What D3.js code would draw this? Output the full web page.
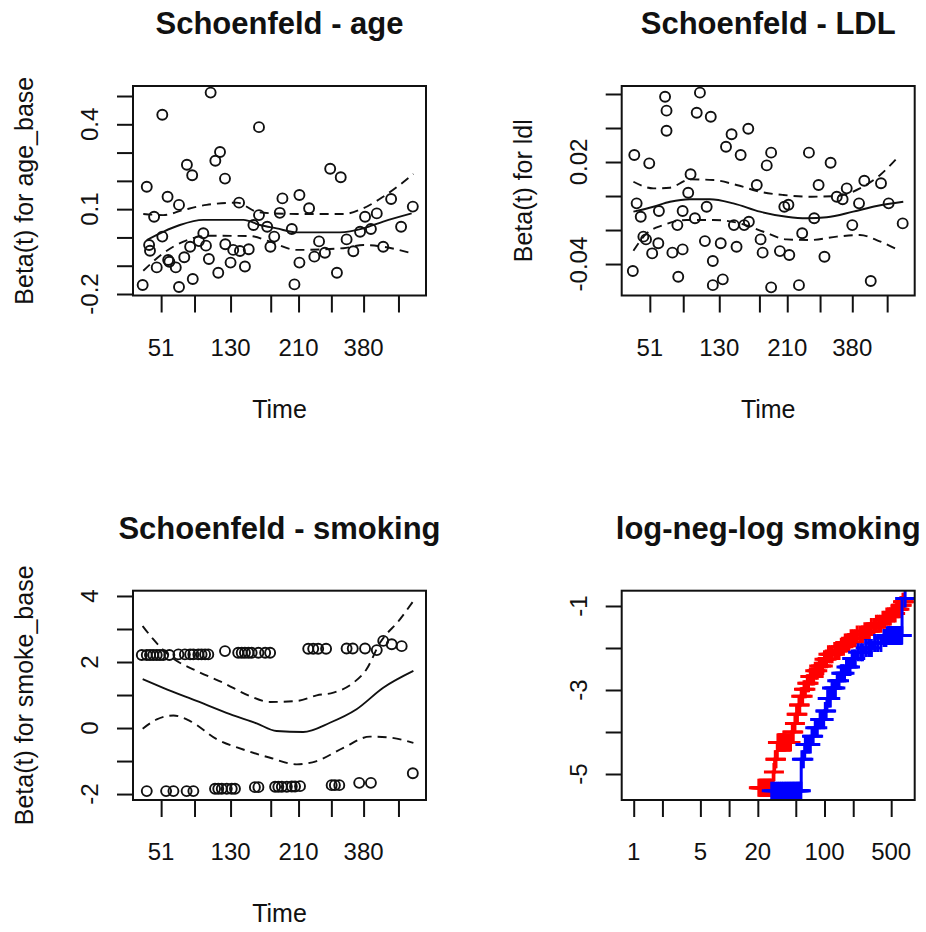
<!DOCTYPE html>
<html>
<head>
<meta charset="utf-8">
<script src="https://cdnjs.cloudflare.com/ajax/libs/d3/7.8.5/d3.min.js"></script>
<style>
	body { margin: 0; background: #fff; }
	svg text { font-family: "Liberation Sans", Arial, sans-serif; fill: #111; }
	.title { font-weight: bold; font-size: 31px; }
	.tick-lab { font-size: 24px; }
	.ax-lab { font-size: 25px; }
</style>
</head>
<body>
<svg id="chart" width="926" height="932"></svg>
<script>

	// ---- shared time axis of the three Schoenfeld panels (km-transformed time, 0..1 across the frame)
	var timeTicks = [0.096, 0.210, 0.333, 0.470, 0.565, 0.677, 0.787, 0.906];
	var timeLabels = ["51", "", "130", "", "210", "", "380", ""];

	// ---- age
	var ageRange = [-0.2053, 0.5354];
	var ageTicks = [-0.2, -0.1, 0, 0.1, 0.2, 0.3, 0.4, 0.5];
	var ageLabels = ["-0.2", "", "", "0.1", "", "", "0.4", ""];
	var agePoints = [
		[0.265, 0.512], [0.100, 0.434], [0.430, 0.390], [0.297, 0.302], [0.281, 0.271],
		[0.184, 0.257], [0.202, 0.220], [0.314, 0.208], [0.673, 0.243], [0.709, 0.213],
		[0.047, 0.179], [0.118, 0.144], [0.157, 0.115], [0.362, 0.123], [0.510, 0.138],
		[0.568, 0.150], [0.601, 0.103], [0.072, 0.073], [0.430, 0.079], [0.501, 0.087],
		[0.792, 0.073], [0.832, 0.085], [0.881, 0.136], [0.955, 0.109], [0.915, 0.038],
		[0.812, 0.030], [0.775, 0.020], [0.100, 0.003], [0.240, 0.015], [0.411, 0.044],
		[0.458, 0.038], [0.542, 0.030], [0.482, 0.003], [0.729, -0.007], [0.055, -0.027],
		[0.058, -0.047], [0.195, -0.033], [0.225, -0.013], [0.249, -0.029], [0.315, -0.024],
		[0.342, -0.044], [0.365, -0.048], [0.395, -0.042], [0.469, -0.033], [0.635, -0.014],
		[0.619, -0.068], [0.655, -0.054], [0.752, -0.049], [0.854, -0.033], [0.120, -0.080],
		[0.124, -0.086], [0.146, -0.106], [0.175, -0.070], [0.081, -0.106], [0.259, -0.076],
		[0.333, -0.089], [0.382, -0.103], [0.568, -0.089], [0.291, -0.125], [0.696, -0.125],
		[0.033, -0.168], [0.157, -0.175], [0.204, -0.147], [0.551, -0.166]
	];
	var ageFit = [[0.047, -0.009], [0.103, 0.020], [0.160, 0.044], [0.240, 0.062], [0.377, 0.062],
		[0.433, 0.044], [0.490, 0.032], [0.559, 0.018], [0.706, 0.018], [0.786, 0.032], [0.854, 0.056], [0.951, 0.085]];
	var ageUpper = [[0.035, 0.083], [0.103, 0.079], [0.172, 0.097], [0.251, 0.115], [0.354, 0.123],
		[0.422, 0.091], [0.479, 0.085], [0.559, 0.083], [0.718, 0.083], [0.786, 0.103], [0.854, 0.144], [0.957, 0.224]];
	var ageLower = [[0.035, -0.118], [0.103, -0.056], [0.172, -0.015], [0.251, 0.006], [0.399, 0.005],
		[0.468, -0.015], [0.559, -0.044], [0.718, -0.038], [0.786, -0.027], [0.854, -0.033], [0.940, -0.053]];

	// ---- LDL
	var ldlRange = [-0.0585, 0.0647];
	var ldlTicks = [-0.04, -0.02, 0, 0.02, 0.04, 0.06];
	var ldlLabels = ["-0.04", "", "", "0.02", "", ""];
	var ldlPoints = [
		[0.267, 0.0608], [0.148, 0.0584], [0.153, 0.0502], [0.256, 0.0490], [0.304, 0.0466],
		[0.153, 0.0384], [0.432, 0.0396], [0.375, 0.0363], [0.356, 0.0290], [0.406, 0.0241],
		[0.510, 0.0255], [0.495, 0.0180], [0.639, 0.0255], [0.713, 0.0196], [0.043, 0.0241],
		[0.094, 0.0192], [0.235, 0.0128], [0.461, 0.0065], [0.672, 0.0065], [0.828, 0.0090],
		[0.885, 0.0075], [0.227, 0.0019], [0.768, 0.0045], [0.734, -0.0004], [0.754, -0.0019],
		[0.051, -0.0043], [0.290, -0.0063], [0.555, -0.0063], [0.569, -0.0051], [0.810, -0.0043],
		[0.911, -0.0043], [0.065, -0.0122], [0.127, -0.0088], [0.208, -0.0088], [0.250, -0.0131],
		[0.657, -0.0131], [0.190, -0.0171], [0.383, -0.0171], [0.418, -0.0171], [0.434, -0.0151],
		[0.787, -0.0171], [0.959, -0.0161], [0.074, -0.0239], [0.083, -0.0255], [0.125, -0.0278],
		[0.104, -0.0337], [0.173, -0.0333], [0.208, -0.0314], [0.284, -0.0265], [0.338, -0.0278],
		[0.392, -0.0298], [0.474, -0.0255], [0.481, -0.0333], [0.540, -0.0324], [0.572, -0.0347],
		[0.616, -0.0219], [0.692, -0.0357], [0.311, -0.0382], [0.038, -0.0441], [0.193, -0.0475],
		[0.311, -0.0524], [0.345, -0.0490], [0.510, -0.0537], [0.605, -0.0524], [0.850, -0.0500]
	];
	var ldlFit = [[0.040, -0.0092], [0.108, -0.0063], [0.165, -0.0034], [0.233, -0.0019], [0.301, -0.0019],
		[0.381, -0.0043], [0.472, -0.0092], [0.563, -0.0122], [0.631, -0.0131], [0.700, -0.0125],
		[0.790, -0.0092], [0.870, -0.0059], [0.961, -0.0034]];
	var ldlUpper = [[0.040, 0.0084], [0.108, 0.0045], [0.165, 0.0049], [0.233, 0.0098], [0.313, 0.0094],
		[0.392, 0.0065], [0.472, 0.0025], [0.552, 0.0006], [0.643, -0.0004], [0.734, 0.0000],
		[0.813, 0.0045], [0.882, 0.0124], [0.939, 0.0222]];
	var ldlLower = [[0.040, -0.0322], [0.085, -0.0220], [0.142, -0.0171], [0.222, -0.0141], [0.313, -0.0141],
		[0.404, -0.0161], [0.484, -0.0210], [0.563, -0.0255], [0.643, -0.0259], [0.734, -0.0239],
		[0.813, -0.0229], [0.870, -0.0259], [0.933, -0.0308]];

	// ---- smoking
	var smokeRange = [-2.18, 4.16];
	var smokeTicks = [-2, -1, 0, 1, 2, 3, 4];
	var smokeLabels = ["-2", "", "0", "", "2", "", "4"];
	var smokePoints = [
		[0.030, 2.21], [0.047, 2.21], [0.058, 2.21], [0.069, 2.21], [0.081, 2.21], [0.092, 2.21],
		[0.103, 2.21], [0.124, 2.21], [0.155, 2.23], [0.177, 2.23], [0.195, 2.23], [0.206, 2.23],
		[0.223, 2.23], [0.234, 2.23], [0.246, 2.23], [0.257, 2.23], [0.314, 2.33], [0.359, 2.28],
		[0.371, 2.28], [0.382, 2.28], [0.394, 2.28], [0.405, 2.28], [0.428, 2.28], [0.451, 2.28],
		[0.468, 2.28], [0.598, 2.40], [0.615, 2.40], [0.632, 2.40], [0.659, 2.40], [0.729, 2.41],
		[0.750, 2.41], [0.792, 2.41], [0.832, 2.36], [0.854, 2.64], [0.883, 2.54], [0.917, 2.48],
		[0.047, -1.91], [0.113, -1.91], [0.138, -1.91], [0.183, -1.91], [0.206, -1.91],
		[0.280, -1.84], [0.291, -1.84], [0.303, -1.84], [0.320, -1.84], [0.337, -1.84], [0.348, -1.84],
		[0.416, -1.79], [0.428, -1.79], [0.485, -1.78], [0.496, -1.78], [0.508, -1.78], [0.525, -1.78],
		[0.542, -1.77], [0.553, -1.77], [0.570, -1.76], [0.678, -1.73], [0.689, -1.73], [0.704, -1.73],
		[0.772, -1.66], [0.812, -1.66], [0.955, -1.37]
	];
	var smokeFit = [[0.033, 1.48], [0.103, 1.22], [0.217, 0.82], [0.331, 0.42], [0.422, 0.14], [0.490, -0.09],
		[0.581, -0.12], [0.672, 0.16], [0.763, 0.57], [0.854, 1.22], [0.957, 1.73]];
	var smokeUpper = [[0.033, 3.09], [0.069, 2.69], [0.126, 2.18], [0.217, 1.73], [0.308, 1.37], [0.399, 0.97],
		[0.468, 0.79], [0.559, 0.82], [0.627, 0.99], [0.684, 1.07], [0.752, 1.37], [0.797, 1.78],
		[0.843, 2.58], [0.911, 3.29], [0.957, 3.85]];
	var smokeLower = [[0.033, -0.02], [0.081, 0.26], [0.138, 0.38], [0.195, 0.21], [0.286, -0.34], [0.376, -0.65],
		[0.468, -0.90], [0.559, -1.10], [0.627, -1.00], [0.718, -0.60], [0.809, -0.26], [0.877, -0.29], [0.957, -0.45]];

	// ---- log-neg-log survival by smoking
	var llTimeRange = [0.7484, 882];
	var llTimeTicks = [1, 2, 5, 10, 20, 50, 100, 200, 500];
	var llTimeLabels = ["1", "", "5", "", "20", "", "100", "", "500"];
	var llRange = [-5.619, -0.636];
	var llTicks = [-5, -4, -3, -2, -1];
	var llLabels = ["-5", "", "-3", "", "-1"];

	var redSteps = [[20, -5.33], [29, -4.95], [30, -4.65], [32, -4.25], [45, -4.00], [48, -3.80], [50, -3.58],
		[53, -3.36], [56, -3.15], [60, -2.98], [64, -2.84], [70, -2.68], [78, -2.54], [86, -2.43], [97, -2.27],
		[110, -2.15], [125, -2.07], [145, -1.97], [165, -1.87], [190, -1.77], [220, -1.68], [260, -1.60],
		[300, -1.50], [350, -1.42], [400, -1.33], [450, -1.25], [500, -1.18], [570, -1.08], [620, -0.98], [650, -0.90]];
	var redEnd = 690;
	var redCensor = [20.5, 21, 21.5, 22, 22.5, 23, 23.5, 24, 24.5, 25, 25.5, 26, 26.5, 27, 27.5, 28,
		29.5, 30.5, 31,
		32.5, 33, 33.5, 34, 34.5, 35, 35.5, 36, 36.5, 37, 37.5, 38, 38.5, 39, 40, 41, 42, 43, 44,
		46, 47, 49, 51, 52, 54, 55, 57, 59, 61, 63, 66, 68, 71, 74, 77, 80, 84, 88, 92, 96, 100,
		105, 110, 115, 120, 128, 135, 142, 150, 158, 165, 172, 180, 190, 200, 210, 220, 235, 250,
		265, 280, 295, 310, 330, 350, 370, 390, 410, 430, 450, 470, 490, 510, 530, 550, 570, 590,
		610, 630, 645, 665, 680];

	var blueSteps = [[27, -5.40], [57, -4.65], [62, -4.30], [72, -4.10], [78, -3.90], [88, -3.70], [100, -3.50],
		[106, -3.20], [118, -2.95], [132, -2.78], [148, -2.60], [168, -2.45], [190, -2.25], [215, -2.10],
		[260, -2.00], [320, -1.88], [400, -1.76], [450, -1.70], [650, -0.82]];
	var blueEnd = 720;
	var blueCensor = [28, 29.5, 31, 32.5, 34, 35.5, 37, 38.5, 40, 41.5, 43, 44.5, 46, 47.5, 49, 50.5, 52,
		53.5, 55, 56.5,
		58, 60, 63, 65, 67, 69, 71, 74, 76, 80, 84, 90, 95, 98, 102, 104, 108, 112, 115, 120, 125, 130,
		136, 142, 150, 155, 162, 170, 178, 185, 195, 205, 210, 225, 240, 250, 270, 290, 310, 335, 360,
		390, 420, 440,
		455, 460, 465, 470, 475, 480, 485, 490, 495, 500, 505, 510, 515, 520, 525, 530, 535, 540, 545,
		550, 555, 560, 565, 570, 575, 580, 585, 590, 595, 600, 605, 610, 615, 620, 625, 630, 635, 640, 645,
		700];

	var svg = d3.select("#chart");

	var frames = {
		age:   {left: 133,   right: 426,   top: 86,    bottom: 295.5},
		ldl:   {left: 621.7, right: 914.7, top: 86,    bottom: 295.5},
		smoke: {left: 133,   right: 426,   top: 590.7, bottom: 800},
		ll:    {left: 621.7, right: 914.7, top: 590.7, bottom: 800}
	};

	function panel(id, f, x, y, o) {
		var g = svg.append("g");

		svg.append("clipPath").attr("id", "clip-" + id)
			.append("rect")
			.attr("x", f.left).attr("y", f.top)
			.attr("width", f.right - f.left).attr("height", f.bottom - f.top);

		// ticks
		g.append("g")
			.attr("transform", "translate(0," + f.bottom + ")")
			.call(d3.axisBottom(x).tickValues(o.xTicks).tickSize(17).tickFormat(""))
			.call(a => a.select(".domain").remove())
			.selectAll("line").attr("stroke", "#111").attr("stroke-width", 2);

		g.append("g")
			.attr("transform", "translate(" + f.left + ",0)")
			.call(d3.axisLeft(y).tickValues(o.yTicks).tickSize(16).tickFormat(""))
			.call(a => a.select(".domain").remove())
			.selectAll("line").attr("stroke", "#111").attr("stroke-width", 2);

		// tick labels
		g.selectAll(".xl").data(o.xTicks).enter().append("text")
			.attr("class", "tick-lab")
			.attr("x", d => x(d))
			.attr("y", f.bottom + 60)
			.attr("text-anchor", "middle")
			.text((d, i) => o.xLabels[i]);

		g.selectAll(".yl").data(o.yTicks).enter().append("text")
			.attr("class", "tick-lab")
			.attr("transform", d => "translate(" + (f.left - 35) + "," + y(d) + ") rotate(-90)")
			.attr("text-anchor", "middle")
			.text((d, i) => o.yLabels[i]);

		// titles
		g.append("text").attr("class", "title")
			.attr("x", (f.left + f.right) / 2).attr("y", f.top - 52)
			.attr("text-anchor", "middle")
			.text(o.title);

		if (o.xlab) g.append("text").attr("class", "ax-lab")
			.attr("x", (f.left + f.right) / 2).attr("y", f.bottom + 122)
			.attr("text-anchor", "middle")
			.text(o.xlab);

		if (o.ylab) g.append("text").attr("class", "ax-lab")
			.attr("transform", "translate(" + (f.left - o.ylabGap) + "," + (f.top + f.bottom) / 2 + ") rotate(-90)")
			.attr("text-anchor", "middle")
			.text(o.ylab);

		var plot = g.append("g").attr("clip-path", "url(#clip-" + id + ")");

		g.append("rect")
			.attr("x", f.left).attr("y", f.top)
			.attr("width", f.right - f.left).attr("height", f.bottom - f.top)
			.attr("fill", "none").attr("stroke", "#111").attr("stroke-width", 2);

		return plot;
	}

	function schoenfeld(id, f, range, ticks, labels, points, fit, upper, lower, title, ylab, gap) {
		var x = d3.scaleLinear().domain([0, 1]).range([f.left, f.right]);
		var y = d3.scaleLinear().domain(range).range([f.bottom, f.top]);

		var plot = panel(id, f, x, y, {
			xTicks: timeTicks, xLabels: timeLabels, yTicks: ticks, yLabels: labels,
			title: title, xlab: "Time", ylab: ylab, ylabGap: gap
		});

		plot.selectAll("circle").data(points).enter().append("circle")
			.attr("cx", d => x(d[0]))
			.attr("cy", d => y(d[1]))
			.attr("r", 5)
			.attr("fill", "none").attr("stroke", "#111").attr("stroke-width", 1.9);

		var line = d3.line().x(d => x(d[0])).y(d => y(d[1])).curve(d3.curveMonotoneX);

		plot.append("path").attr("d", line(fit))
			.attr("fill", "none").attr("stroke", "#111").attr("stroke-width", 1.9);

		[upper, lower].forEach(function(band) {
			plot.append("path").attr("d", line(band))
				.attr("fill", "none").attr("stroke", "#111").attr("stroke-width", 1.9)
				.attr("stroke-dasharray", "9,6");
		});
	}

	schoenfeld("age", frames.age, ageRange, ageTicks, ageLabels, agePoints, ageFit, ageUpper, ageLower,
		"Schoenfeld - age", "Beta(t) for age_base", 100);
	schoenfeld("ldl", frames.ldl, ldlRange, ldlTicks, ldlLabels, ldlPoints, ldlFit, ldlUpper, ldlLower,
		"Schoenfeld - LDL", "Beta(t) for ldl", 90);
	schoenfeld("smoke", frames.smoke, smokeRange, smokeTicks, smokeLabels, smokePoints, smokeFit, smokeUpper, smokeLower,
		"Schoenfeld - smoking", "Beta(t) for smoke_base", 100);

	// ---- log-neg-log panel
	(function() {
		var f = frames.ll;
		var x = d3.scaleLog().domain(llTimeRange).range([f.left, f.right]);
		var y = d3.scaleLinear().domain(llRange).range([f.bottom, f.top]);

		var plot = panel("ll", f, x, y, {
			xTicks: llTimeTicks, xLabels: llTimeLabels, yTicks: llTicks, yLabels: llLabels,
			title: "log-neg-log smoking"
		});

		var step = d3.line().x(d => x(d[0])).y(d => y(d[1])).curve(d3.curveStepAfter);

		function levelAt(steps, t) {
			var v = steps[0][1];
			steps.forEach(s => { if (s[0] <= t) v = s[1]; });
			return v;
		}

		[[redSteps, redEnd, redCensor, "#ff0000"], [blueSteps, blueEnd, blueCensor, "#0000ff"]].forEach(function(s) {
			var steps = s[0], last = steps[steps.length - 1];
			plot.append("path")
				.attr("d", step(steps.concat([[s[1], last[1]]])))
				.attr("fill", "none").attr("stroke", s[3]).attr("stroke-width", 3);

			plot.append("g").selectAll("path").data(s[2]).enter().append("path")
				.attr("d", function(t) {
					var px = x(t), py = y(levelAt(steps, t));
					return "M" + (px - 10) + "," + py + "h20M" + px + "," + (py - 9) + "v18";
				})
				.attr("stroke", s[3]).attr("stroke-width", 3);
		});
	})();

</script>
</body>
</html>
